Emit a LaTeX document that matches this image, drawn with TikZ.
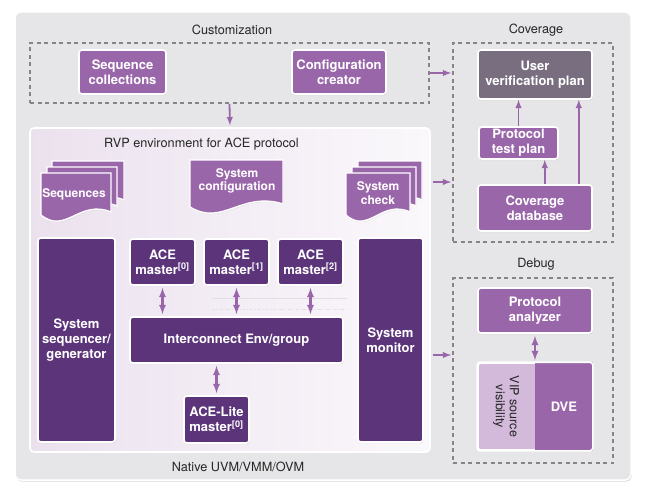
\documentclass[tikz,border=0pt]{standalone}
\usepackage{fontspec}
\setmainfont{TeX Gyre Heros}
\usepackage{tikz}
\usetikzlibrary{calc}
\usetikzlibrary{shadows}
\definecolor{vipurple}{HTML}{9A66AA}
\definecolor{vidark}{HTML}{5C347A}
\definecolor{vigray}{HTML}{786E80}
\definecolor{vilight}{HTML}{D3BADB}
\definecolor{panelgray}{HTML}{E6E6E8}
\definecolor{dashgray}{HTML}{858585}
\tikzstyle{block}=[draw=white,line width=1.6pt,rounded corners=3pt,text=white,inner sep=0pt,align=center,font=\fontsize{13}{15}\selectfont\bfseries,drop shadow={opacity=0.25,shadow xshift=0.6pt,shadow yshift=-1.2pt}]
\tikzstyle{light}=[block,fill=vipurple]
\tikzstyle{dark}=[block,fill=vidark]
\tikzstyle{plan}=[block,fill=vigray]
\tikzstyle{group}=[draw=dashgray,line width=1.8pt,dash pattern=on 4pt off 3.5pt,inner sep=0pt]
\tikzstyle{title}=[font=\fontsize{12.7}{15}\selectfont,text=black!85]
\tikzstyle{page}=[fill=vipurple,draw=white,line width=1.4pt,drop shadow={opacity=0.2,shadow xshift=0.6pt,shadow yshift=-1pt}]
\tikzstyle{pagetext}=[text=white,align=center,font=\fontsize{12}{13.5}\selectfont\bfseries]
\tikzstyle{link}=[line width=1.8pt,draw=vipurple,-latex]
\tikzstyle{both}=[line width=2.2pt,draw=vipurple,latex-latex,shorten <=2pt,shorten >=2pt]

% one document page: left, top, width, height
\newcommand{\docpage}[4]{%
  \draw[page] (#1,#2) -- (#1+#3,#2) -- (#1+#3,#2+#4-11)
    .. controls (#1+0.55*#3,#2+#4-24) and (#1+0.35*#3,#2+#4+12) .. (#1,#2+#4-8) -- cycle;}

\begin{document}
\begin{tikzpicture}[x=1pt,y=-1pt]
	\useasboundingbox (0,0) rectangle (650,495);
	\node[fill=panelgray,draw=white,line width=1.5pt,rounded corners=6pt,minimum width=616pt,minimum height=468pt,drop shadow={opacity=0.3,shadow xshift=0.8pt,shadow yshift=-1.5pt}] (frame) at (323,246) {};

	% customization
	\node[title] (custlbl) at (232,30) {Customization};
	\node[group,minimum width=399pt,minimum height=60pt] (cust) at (229.5,73) {};
	\node[light,minimum width=87pt,minimum height=44pt] (seqcol) at (122.5,72) {Sequence\\collections};
	\node[light,minimum width=94pt,minimum height=44pt] (cfgcre) at (339,72) {Configuration\\creator};

	% coverage
	\node[title] (covlbl) at (536,30) {Coverage};
	\node[group,minimum width=160pt,minimum height=199pt] (cov) at (533,142.5) {};
	\node[plan,minimum width=114pt,minimum height=49pt] (uvp) at (535,74.5) {User\\verification plan};
	\node[light,minimum width=79pt,minimum height=32pt] (ptp) at (518.5,143) {Protocol\\test plan};
	\node[light,minimum width=114pt,minimum height=46pt] (covdb) at (535,208) {Coverage\\database};
	\draw[link] (ptp.north) -- (ptp.north |- uvp.south);
	\draw[link] ([xshift=-14pt]ptp.south east |- covdb.north) -- ([xshift=-14pt]ptp.south east);
	\draw[link] ([xshift=-14pt]uvp.south east |- covdb.north) -- ([xshift=-14pt]uvp.south east);

	% debug
	\node[title] (dbglbl) at (536,264) {Debug};
	\node[group,minimum width=160pt,minimum height=185pt] (dbg) at (533,370.5) {};
	\node[light,minimum width=114pt,minimum height=45pt] (panal) at (535,310.5) {Protocol\\analyzer};
	\node[block,fill=vilight,minimum width=114pt,minimum height=87pt] (viewer) at (535,406.5) {};
	\fill[vipurple] (viewer.north) rectangle (viewer.south east);
	\draw[white,line width=1.6pt,rounded corners=3pt] (viewer.north west) rectangle (viewer.south east);
	\node[rotate=-90,align=center,text=black!85,font=\fontsize{12.5}{14}\selectfont] (vip) at ($(viewer.center)!0.5!(viewer.west)$) {VIP source\\visibility};
	\node[pagetext,font=\fontsize{13}{15}\selectfont\bfseries] (dve) at ($(viewer.center)!0.5!(viewer.east)$) {DVE};
	\draw[both] (panal.south) -- (panal.south |- viewer.north);

	% rvp environment
	\node[draw=white,line width=1.6pt,rounded corners=4pt,left color=black!3!vilight!40,right color=white!90!vilight,minimum width=400pt,minimum height=324pt] (rvp) at (230,290) {};
	\node[title] (rvplbl) at (201.5,144) {RVP environment for ACE protocol};
	\node[title] (native) at (238,467) {Native UVM/VMM/OVM};

	\docpage{52}{161}{72}{50}
	\docpage{47}{167}{70}{50}
	\docpage{41}{173}{70}{50}
	\node[pagetext] (seqs) at (74,194) {Sequences};
	\docpage{190}{160}{93}{55}
	\node[pagetext] (syscfg) at (237,181) {System\\configuration};
	\docpage{358}{161}{64}{50}
	\docpage{352}{167}{64}{50}
	\docpage{346}{173}{64}{50}
	\node[pagetext] (syschk) at (378,193) {System\\check};

	\node[dark,minimum width=77pt,minimum height=204pt] (sysseq) at (76.5,340) {System\\sequencer/\\generator};
	\node[dark,minimum width=65pt,minimum height=46pt] (ace0) at (162.5,262) {ACE\\master\textsuperscript{[0]}};
	\node[dark,minimum width=65pt,minimum height=46pt] (ace1) at (236.5,262) {ACE\\master\textsuperscript{[1]}};
	\node[dark,minimum width=65pt,minimum height=46pt] (ace2) at (310.5,262) {ACE\\master\textsuperscript{[2]}};
	\node[dark,minimum width=213pt,minimum height=46pt] (icon) at (236.5,340) {Interconnect Env/group};
	\node[dark,minimum width=65pt,minimum height=47pt] (acelite) at (216.5,419.5) {ACE-Lite\\master\textsuperscript{[0]}};
	\node[dark,minimum width=65pt,minimum height=204pt] (sysmon) at (390.5,340) {System\\monitor};

	\draw[black!12,line width=0.6pt] (212,298) -- (347,298);
	\draw[black!12,line width=0.6pt,dash dot] (212,309) -- (347,309);
	\draw[both] (ace0.south) -- (ace0.south |- icon.north);
	\draw[both] (ace1.south) -- (ace1.south |- icon.north);
	\draw[both] (ace2.south) -- (ace2.south |- icon.north);
	\draw[both] (acelite.north |- icon.south) -- (acelite.north);

	% links between the groups
	\coordinate (chkout) at (430,182);
	\coordinate (monout) at (430,355);
	\draw[link,shorten >=2pt] (cust.south) -- (rvp.north);
	\draw[link,shorten >=1pt] (cust.east) -- (cust.east -| cov.west);
	\draw[link,shorten <=2pt,shorten >=1pt] (rvp.east |- chkout) -- (chkout -| cov.west);
	\draw[link,shorten <=2pt,shorten >=1pt] (rvp.east |- monout) -- (monout -| dbg.west);
\end{tikzpicture}
\end{document}
